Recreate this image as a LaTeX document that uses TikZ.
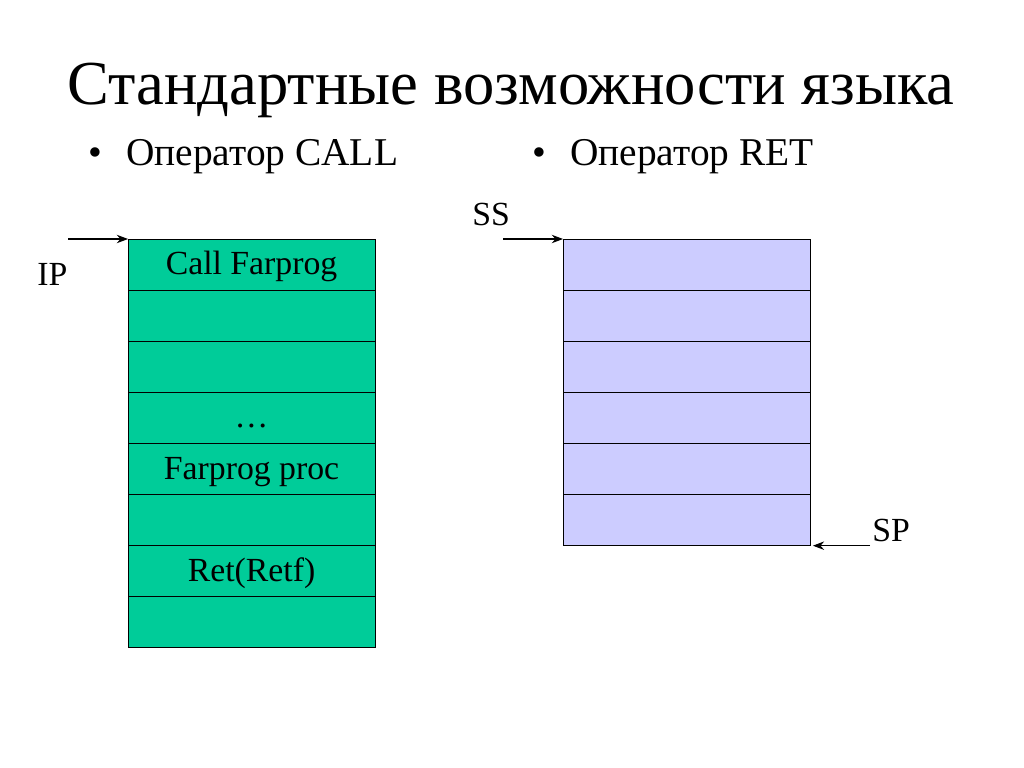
\documentclass[tikz,border=0pt]{standalone}
\usepackage{fontspec}
\setmainfont{Liberation Serif}
\usetikzlibrary{positioning,arrows.meta}

\definecolor{codegreen}{RGB}{0,204,153}
\definecolor{stacklilac}{RGB}{204,204,255}

\tikzset{
  cell/.style={draw, line width=0.6pt, outer sep=0pt, inner sep=0pt,
    minimum width=6.175cm, minimum height=1.2775cm,
    text height=0.5cm, text depth=0pt, font=\fontsize{24}{28}\selectfont},
  codecell/.style={cell, fill=codegreen},
  stackcell/.style={cell, fill=stacklilac},
  ptr/.style={-{Stealth[length=8pt,width=6pt]}, line width=0.8pt},
  lbl/.style={font=\fontsize{24}{28}\selectfont, inner sep=0pt}
}

\begin{document}
\begin{tikzpicture}[x=0.025cm,y=-0.025cm]
  \useasboundingbox (0,0) rectangle (1024,768);

  % Заголовок и пункты
  \node[anchor=base, inner sep=0pt, font=\fontsize{44.5}{50}\selectfont] (title) at (511,105) {Стандартные возможности языка};
  \node[anchor=base west, inner sep=0pt, font=\fontsize{28}{32}\selectfont] (b1) at (88,165) {•};
  \node[anchor=base west, inner sep=0pt, font=\fontsize{28}{32}\selectfont] (t1) at (126,165) {Оператор CALL};
  \node[anchor=base west, inner sep=0pt, font=\fontsize{28}{32}\selectfont] (b2) at (532,165) {•};
  \node[anchor=base west, inner sep=0pt, font=\fontsize{28}{32}\selectfont] (t2) at (570,165) {Оператор RET};

  % Сегмент кода
  \node[codecell, anchor=north west] (c1) at (128,239) {Call Farprog};
  \foreach \i/\txt [remember=\i as \j (initially 1)] in {2/{},3/{},4/{\ldots},5/{Farprog proc},6/{},7/{Ret(Retf)},8/{}}
    \node[codecell, below=0pt of c\j] (c\i) {\txt};

  % Стек
  \node[stackcell, anchor=north west] (s1) at (563,239) {};
  \foreach \i [remember=\i as \j (initially 1)] in {2,...,6}
    \node[stackcell, below=0pt of s\j] (s\i) {};

  % Указатели
  \coordinate (ipstart) at (68,239);
  \coordinate (ssstart) at (503,239);
  \coordinate (spstart) at ([xshift=1.5cm]s6.south east);
  \draw[ptr] (ipstart) -- (c1.north west);
  \draw[ptr] (ssstart) -- (s1.north west);
  \draw[ptr] (spstart) -- ([xshift=2pt]s6.south east);

  \node[lbl, anchor=base west] (ip) at (37,285) {IP};
  \node[lbl, anchor=base west] (ss) at (472,225) {SS};
  \node[lbl, anchor=base west] (sp) at (872,541) {SP};
\end{tikzpicture}
\end{document}
